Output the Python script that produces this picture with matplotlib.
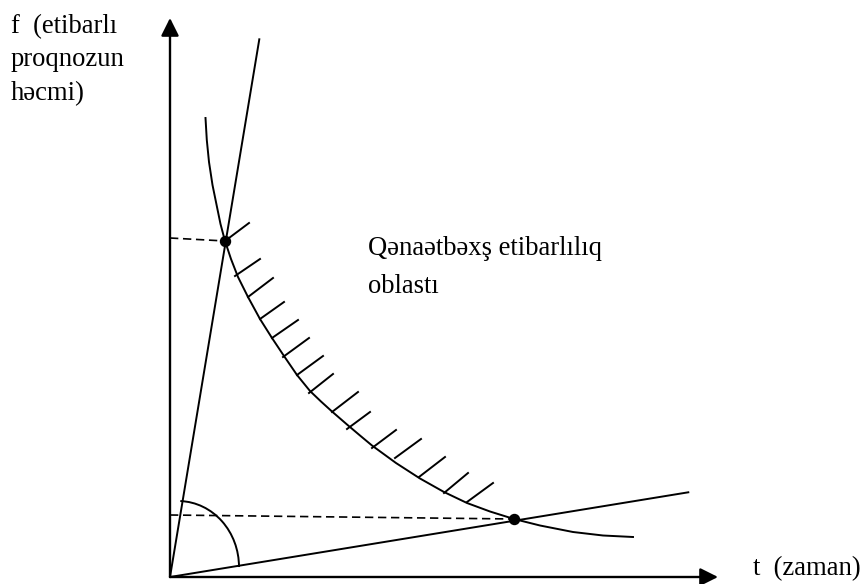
# Diaqram: etibarlı proqnozun həcmi və zaman
import matplotlib
matplotlib.use("Agg")
import matplotlib.pyplot as plt
from matplotlib.patches import Arc

plt.rcParams["font.family"] = ["Liberation Serif", "DejaVu Serif"]

# koordinatlar şəkil pikselləri ilə (y aşağı artır)
origin = (170, 577)
x_axis_tip = (718, 577)
y_axis_tip = (170, 18)

steep_end = (259.3, 39.3)
shallow_end = (688.3, 492.3)

curve_x = [205.5, 206.8, 209, 212.5, 217, 220.5, 225, 231, 238, 248, 260,
           272, 284, 297, 310, 321, 332, 347, 360, 372, 396, 420, 444, 467,
           490, 514, 540, 573, 603, 633]
curve_y = [118, 140, 162, 185, 207, 224, 241, 259, 277, 297, 319,
           338, 356, 375, 391, 401.5, 411.5, 424.5, 435.5, 445.5, 463, 478.5,
           492, 503, 511.5, 519, 525.5, 532, 535.5, 537]

hatch_x0 = [225, 235, 248, 260, 272, 283, 297, 309, 332, 347, 372, 395, 419, 444, 467]
hatch_y0 = [241, 276, 297, 319, 338, 357, 375, 393, 412, 429, 448, 458, 477, 493, 502]
hatch_x1 = [249, 260, 273, 284, 298, 309, 323, 333, 358, 370, 396, 421, 445, 468, 493]
hatch_y1 = [223, 259, 278, 302, 320, 338, 356, 374, 392, 412, 430, 439, 457, 473, 483]

points_x = [225, 514]
points_y = [241, 519]

dash_upper_x = [170, 225]
dash_upper_y = [238, 241]
dash_lower_x = [170, 514]
dash_lower_y = [515, 519]

fig = plt.figure(figsize=(8.64, 5.84), dpi=100)
ax = fig.add_axes([0, 0, 1, 1])
ax.set_xlim(0, 864)
ax.set_ylim(584, 0)
ax.axis("off")

LW_AX = 1.7
LW = 1.4
FS = 19.2

# oxlar
for tip in (x_axis_tip, y_axis_tip):
    ax.annotate("", xy=tip, xytext=origin,
                arrowprops=dict(arrowstyle="-|>,head_length=0.4,head_width=0.2",
                                color="black", lw=LW_AX, mutation_scale=27,
                                shrinkA=0, shrinkB=0))

# şüalar
ax.plot([origin[0], steep_end[0]], [origin[1], steep_end[1]], color="black", lw=LW)
ax.plot([origin[0], shallow_end[0]], [origin[1], shallow_end[1]], color="black", lw=LW)

# əyri
ax.plot(curve_x, curve_y, color="black", lw=LW, solid_joinstyle="round")

# ştrixlər
for x0, y0, x1, y1 in zip(hatch_x0, hatch_y0, hatch_x1, hatch_y1):
    ax.plot([x0, x1], [y0, y1], color="black", lw=LW)

# qırıq xətlər
dash = (0, (5, 2.8))
ax.plot(dash_upper_x, dash_upper_y, color="black", lw=1.2, linestyle=dash)
ax.plot(dash_lower_x, dash_lower_y, color="black", lw=1.2, linestyle=dash)

# nöqtələr
ax.plot(points_x, points_y, "o", color="black", ms=7.2)

# bucaq qövsü
ax.add_patch(Arc((178, 567), 122, 132, theta1=272, theta2=360,
                 color="black", lw=LW))

# yazılar
ax.text(11, 33, "f  (etibarlı", fontsize=FS, va="baseline")
ax.text(11, 66, "proqnozun", fontsize=FS, va="baseline")
ax.text(11, 100, "həcmi)", fontsize=FS, va="baseline")
ax.text(368, 255, "Qənaətbəxş etibarlılıq", fontsize=FS, va="baseline")
ax.text(368, 293, "oblastı", fontsize=FS, va="baseline")
ax.text(753, 575, "t  (zaman)", fontsize=FS, va="baseline")

fig.savefig("out.png", dpi=100)
